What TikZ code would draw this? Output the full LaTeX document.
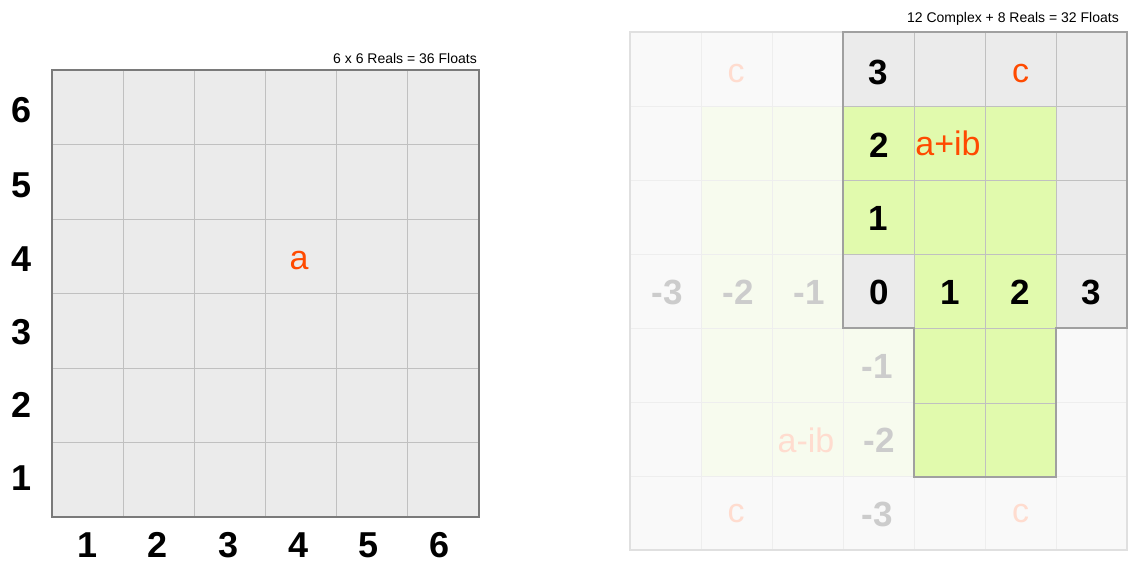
\documentclass[tikz,border=0pt]{standalone}
\usepackage{fontspec}
\setmainfont{Liberation Sans}
\definecolor{cellgray}{HTML}{EBEBEB}
\definecolor{fadegray}{HTML}{F9F9F9}
\definecolor{brightgreen}{HTML}{E1FAAD}
\definecolor{fadegreen}{HTML}{F7FBEE}
\definecolor{innerline}{HTML}{C0C0C0}
\definecolor{outerline}{HTML}{7A7A7A}
\definecolor{brightout}{HTML}{A0A0A0}
\definecolor{fadeline}{HTML}{EEEEEE}
\definecolor{fadeouter}{HTML}{E0E0E0}
\definecolor{accent}{HTML}{FF4A00}
\definecolor{fadeaccent}{HTML}{FFDCCF}
\definecolor{fadetext}{HTML}{CCCCCC}
\tikzset{
  biglabel/.style={inner sep=0pt, anchor=center, font=\fontsize{36}{36}\selectfont\bfseries},
  gridlabel/.style={inner sep=0pt, anchor=center, font=\fontsize{35}{35}\selectfont\bfseries},
  fadelabel/.style={gridlabel, text=fadetext},
  accenttext/.style={inner sep=0pt, anchor=center, font=\fontsize{34}{34}\selectfont, text=accent},
  fadeaccenttext/.style={accenttext, text=fadeaccent},
  caption/.style={inner sep=0pt, anchor=base east, font=\fontsize{14}{14}\selectfont},
}
\begin{document}
\begin{tikzpicture}[x=1pt,y=-1pt]
\useasboundingbox (0,0) rectangle (1130,562);
% ---------- left grid ----------
\fill[cellgray] (52,70) rectangle (479,517);
\foreach \i in {1,...,5} {
  \draw[innerline, line width=1pt] ({52+\i*71.17},70) -- ({52+\i*71.17},517);
  \draw[innerline, line width=1pt] (52,{70+\i*74.5}) -- (479,{70+\i*74.5});
}
\draw[outerline, line width=1.1pt] (52,70) rectangle (479,517);
\node[caption] (lcap) at (477,63) {6 x 6 Reals = 36 Floats};
\foreach \lab/\yy in {6/110,5/185,4/259,3/332,2/405,1/478}
  \node[biglabel] (row\lab) at (22,\yy) {\lab};
\foreach \lab/\xx in {1/88,2/158,3/229,4/299,5/369,6/440}
  \node[biglabel] (col\lab) at (\xx,545) {\lab};
\node[accenttext] (la) at (299,261) {a};
% ---------- right grid ----------
\fill[fadegray] (630,32) rectangle (1127,550);
\fill[fadegreen] (701,106) rectangle (843,477);
\fill[fadegreen] (843,328) rectangle (914,477);
\foreach \i in {1,...,6} {
  \draw[fadeline, line width=1pt] ({630+\i*71},32) -- ({630+\i*71},550);
  \draw[fadeline, line width=1pt] (630,{32+\i*74}) -- (1127,{32+\i*74});
}
\draw[fadeouter, line width=1.2pt] (630,32) rectangle (1127,550);
% bright region
\fill[cellgray] (843,32) rectangle (1127,106);
\fill[cellgray] (1056,106) rectangle (1127,328);
\fill[cellgray] (843,254) rectangle (914,328);
\fill[brightgreen] (843,106) rectangle (914,254);
\fill[brightgreen] (914,106) rectangle (1056,477);
\draw[innerline, line width=1pt] (914,32) -- (914,477) (985,32) -- (985,477) (1056,32) -- (1056,328)
  (843,106) -- (1127,106) (843,180) -- (1127,180) (843,254) -- (1127,254)
  (914,328) -- (1056,328) (914,403) -- (1056,403);
\draw[brightout, line width=1.1pt] (843,32) -- (1127,32) -- (1127,328) -- (1056,328) -- (1056,477)
  -- (914,477) -- (914,328) -- (843,328) -- cycle;
\node[caption] (rcap) at (1119,23) {12 Complex + 8 Reals = 32 Floats};
% labels
\node[gridlabel] (r3) at (878.5,72) {3};
\node[gridlabel] (r2) at (879,145) {2};
\node[gridlabel] (r1) at (878,218) {1};
\node[gridlabel] (r0) at (879,292) {0};
\node[gridlabel] (c1) at (950,292) {1};
\node[gridlabel] (c2) at (1020.5,292) {2};
\node[gridlabel] (c3) at (1091,292) {3};
\node[fadelabel] (cm3) at (667,292) {-3};
\node[fadelabel] (cm2) at (738,292) {-2};
\node[fadelabel] (cm1) at (809,292) {-1};
\node[fadelabel] (rm1) at (877,366) {-1};
\node[fadelabel] (rm2) at (879,440) {-2};
\node[fadelabel] (rm3) at (877,514) {-3};
\node[accenttext] (cc) at (1020.5,74) {c};
\node[accenttext] (aib) at (948,143) {a+ib};
\node[fadeaccenttext] (fc1) at (736,74) {c};
\node[fadeaccenttext] (fc2) at (736,514) {c};
\node[fadeaccenttext] (fc3) at (1020.5,514) {c};
\node[fadeaccenttext] (amib) at (806,440) {a-ib};
\end{tikzpicture}
\end{document}
